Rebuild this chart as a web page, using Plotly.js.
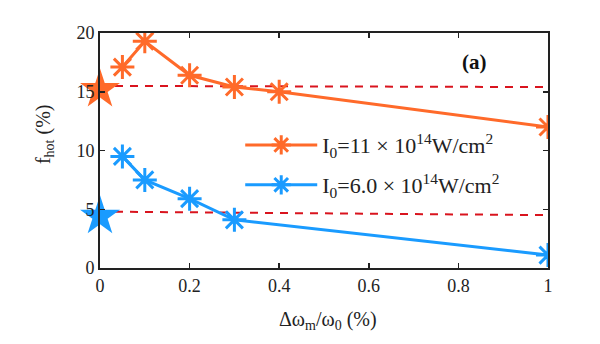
<!DOCTYPE html>
<html><head><meta charset="utf-8">
<script src="https://cdn.plot.ly/plotly-3.0.1.min.js"></script>
<style>html,body{margin:0;padding:0;background:#fff}#chart{width:600px;height:344px}</style>
</head><body><div id="chart"></div>
<script>
const xLine = [0.05, 0.1, 0.2, 0.3, 0.4, 1];
const orangeY = [17.1, 19.3, 16.4, 15.4, 15.0, 12.0];
const xBlue = [0.05, 0.1, 0.2, 0.3, 1];
const blueY = [9.5, 7.5, 5.9, 4.1, 1.1];
const starX = [0];
const orangeStar = [15.2];
const blueStar = [4.4];
const dashX = [0, 1];
const orangeDash = [15.5, 15.4];
const blueDash = [4.8, 4.5];
const xTicks = [0, 0.2, 0.4, 0.6, 0.8, 1];
const xTickText = ['0', '0.2', '0.4', '0.6', '0.8', '1'];
const yTicks = [0, 5, 10, 15, 20];
const orange = '#FF6A2A', blue = '#1A9BFF', red = '#D9141E';
const font = 'Liberation Serif';
const traces = [
  {x: dashX, y: orangeDash, mode: 'lines', line: {color: red, width: 2, dash: '8px,7px'}, showlegend: false},
  {x: dashX, y: blueDash, mode: 'lines', line: {color: red, width: 2, dash: '8px,7px'}, showlegend: false},
  {x: xLine, y: orangeY, mode: 'lines+markers', name: 'I<sub>0</sub>=11 \u00d7 10<sup>14</sup>W/cm<sup>2</sup>', legend: 'legend',
   line: {color: orange, width: 3}, marker: {symbol: 'asterisk-open', size: 20, color: orange, line: {color: orange, width: 3}}},
  {x: xBlue, y: blueY, mode: 'lines+markers', name: 'I<sub>0</sub>=6.0 \u00d7 10<sup>14</sup>W/cm<sup>2</sup>', legend: 'legend2',
   line: {color: blue, width: 3}, marker: {symbol: 'asterisk-open', size: 20, color: blue, line: {color: blue, width: 3}}},
  {x: starX, y: orangeStar, mode: 'markers', marker: {symbol: 'star', size: 30, color: orange}, showlegend: false, cliponaxis: false},
  {x: starX, y: blueStar, mode: 'markers', marker: {symbol: 'star', size: 30, color: blue}, showlegend: false, cliponaxis: false}
];
const legendBase = {x: 0.313, xanchor: 'left', yanchor: 'middle', bgcolor: 'rgba(0,0,0,0)', itemwidth: 72,
  font: {family: font, size: 22, color: '#222'}};
const layout = {
  width: 600, height: 344,
  margin: {l: 100, r: 52, t: 33, b: 76},
  paper_bgcolor: '#fff', plot_bgcolor: '#fff',
  font: {family: font, size: 18, color: '#222'},
  xaxis: {range: [0, 1], tickvals: xTicks, ticktext: xTickText,
    ticks: 'inside', ticklen: 5, tickwidth: 1.5, tickcolor: '#222', showline: true, linecolor: '#222', linewidth: 2,
    mirror: 'ticks', showgrid: false, zeroline: false, tickfont: {family: font, size: 18}},
  yaxis: {range: [0, 20], tickvals: yTicks,
    ticks: 'inside', ticklen: 5, tickwidth: 1.5, tickcolor: '#222', showline: true, linecolor: '#222', linewidth: 2,
    mirror: 'ticks', showgrid: false, zeroline: false, tickfont: {family: font, size: 18}},
  legend: Object.assign({}, legendBase, {y: 0.523}),
  legend2: Object.assign({}, legendBase, {y: 0.353}),
  annotations: [
    {x: 0.837, y: 0.877, xref: 'paper', yref: 'paper', xanchor: 'center', yanchor: 'middle', text: '<b>(a)</b>', showarrow: false, font: {family: font, size: 21, color: '#111'}},
    {x: 0.51, y: -0.225, xref: 'paper', yref: 'paper', xanchor: 'center', yanchor: 'middle', text: '\u0394\u03c9<sub>m</sub>/\u03c9<sub>0</sub> (%)', showarrow: false, font: {family: font, size: 20, color: '#222'}},
    {x: -0.125, y: 0.57, xref: 'paper', yref: 'paper', xanchor: 'center', yanchor: 'middle', textangle: -90, text: 'f<sub>hot</sub> (%)', showarrow: false, font: {family: font, size: 20, color: '#222'}}
  ],
  showlegend: true
};
Plotly.newPlot('chart', traces, layout, {displayModeBar: false, staticPlot: true});
</script></body></html>
